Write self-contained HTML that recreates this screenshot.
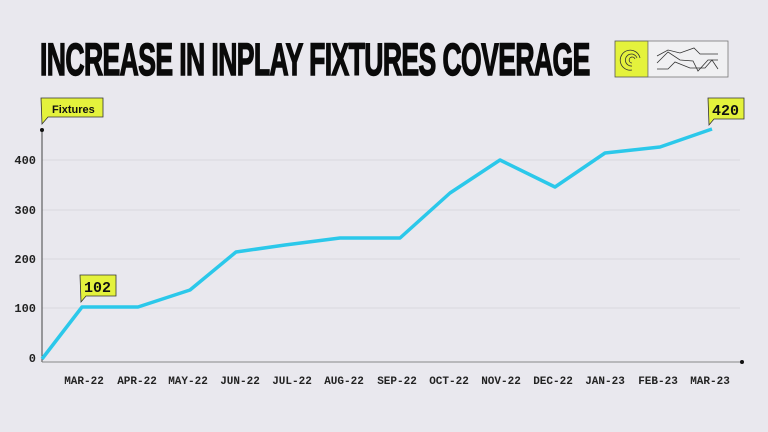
<!DOCTYPE html>
<html><head><style>
body{margin:0;width:768px;height:432px;background:#e9e8ee;overflow:hidden;font-family:"Liberation Sans",sans-serif}
.t{position:absolute;left:40px;top:34px;font-size:45px;font-weight:bold;letter-spacing:-1px;transform:scaleX(0.59);transform-origin:0 0;white-space:nowrap;color:#0a0a0a;-webkit-text-stroke:1.5px #0a0a0a}
</style></head><body>
<div class="t">INCREASE IN INPLAY FIXTURES COVERAGE</div>
<svg width="768" height="432" style="position:absolute;left:0;top:0" font-family="Liberation Mono, monospace">
<g stroke="#d9d8df" stroke-width="1">
<line x1="42" y1="160" x2="740" y2="160"/><line x1="42" y1="210" x2="740" y2="210"/><line x1="42" y1="259" x2="740" y2="259"/><line x1="42" y1="308" x2="740" y2="308"/>
</g>
<line x1="42" y1="130" x2="42" y2="362" stroke="#444" stroke-width="1"/>
<line x1="42" y1="362" x2="742" y2="362" stroke="#888" stroke-width="1"/>
<circle cx="42" cy="130" r="2" fill="#111"/><circle cx="742" cy="362" r="2" fill="#111"/>
<g font-size="12" font-weight="bold" fill="#222" text-anchor="end">
<text x="36" y="164">400</text><text x="36" y="214">300</text><text x="36" y="263">200</text><text x="36" y="312">100</text><text x="36" y="362">0</text>
</g>
<g font-size="11" font-weight="bold" fill="#222" text-anchor="middle">
<text x="84" y="384">MAR-22</text><text x="137" y="384">APR-22</text><text x="188" y="384">MAY-22</text><text x="240" y="384">JUN-22</text><text x="292" y="384">JUL-22</text><text x="344" y="384">AUG-22</text><text x="397" y="384">SEP-22</text><text x="449" y="384">OCT-22</text><text x="501" y="384">NOV-22</text><text x="553" y="384">DEC-22</text><text x="605" y="384">JAN-23</text><text x="658" y="384">FEB-23</text><text x="710" y="384">MAR-23</text>
</g>
<polyline fill="none" stroke="#2bc8ea" stroke-width="3.5" stroke-linejoin="round" points="42,359 82,307 138,307 190,290 236,252 285,245 340,238 400,238 450,193 500,160 555,187 605,153 660,147 712,129"/>
<g fill="#e4f23c" stroke="#333" stroke-width="0.8">
<path d="M41,98 H103 V117 H48 L42,124 Z"/>
<path d="M80,275 H116 V296 H86 L81,302 Z"/>
<path d="M708,98 H744 V119 H714 L709,125 Z"/>
</g>
<g font-weight="bold" fill="#111">
<text x="52" y="113" font-size="11" font-family="Liberation Sans Narrow, Liberation Sans, sans-serif">Fixtures</text>
<text x="84" y="292" font-size="15">102</text>
<text x="712" y="115" font-size="15">420</text>
</g>
<rect x="615" y="41" width="33" height="36" fill="#e4f23c" stroke="#555" stroke-width="0.8"/>
<rect x="648" y="41" width="80" height="36" fill="#f0f0f2" stroke="#777" stroke-width="0.8"/>
<g fill="none" stroke="#333" stroke-width="0.8">
<path d="M632,70 a10,10 0 1 1 8,-12"/><path d="M632,66 a6,6 0 1 1 5,-8"/><path d="M632,63 a3,3 0 1 1 3,-4"/>
<polyline points="657,56 668,50 680,53 694,48 700,54 718,54"/>
<polyline points="657,63 668,52 680,60 693,61 698,71 708,60 718,60"/>
<polyline points="657,69 668,69 675,62 690,68 705,68 712,60 718,69"/>
</g>
</svg>
</body></html>
